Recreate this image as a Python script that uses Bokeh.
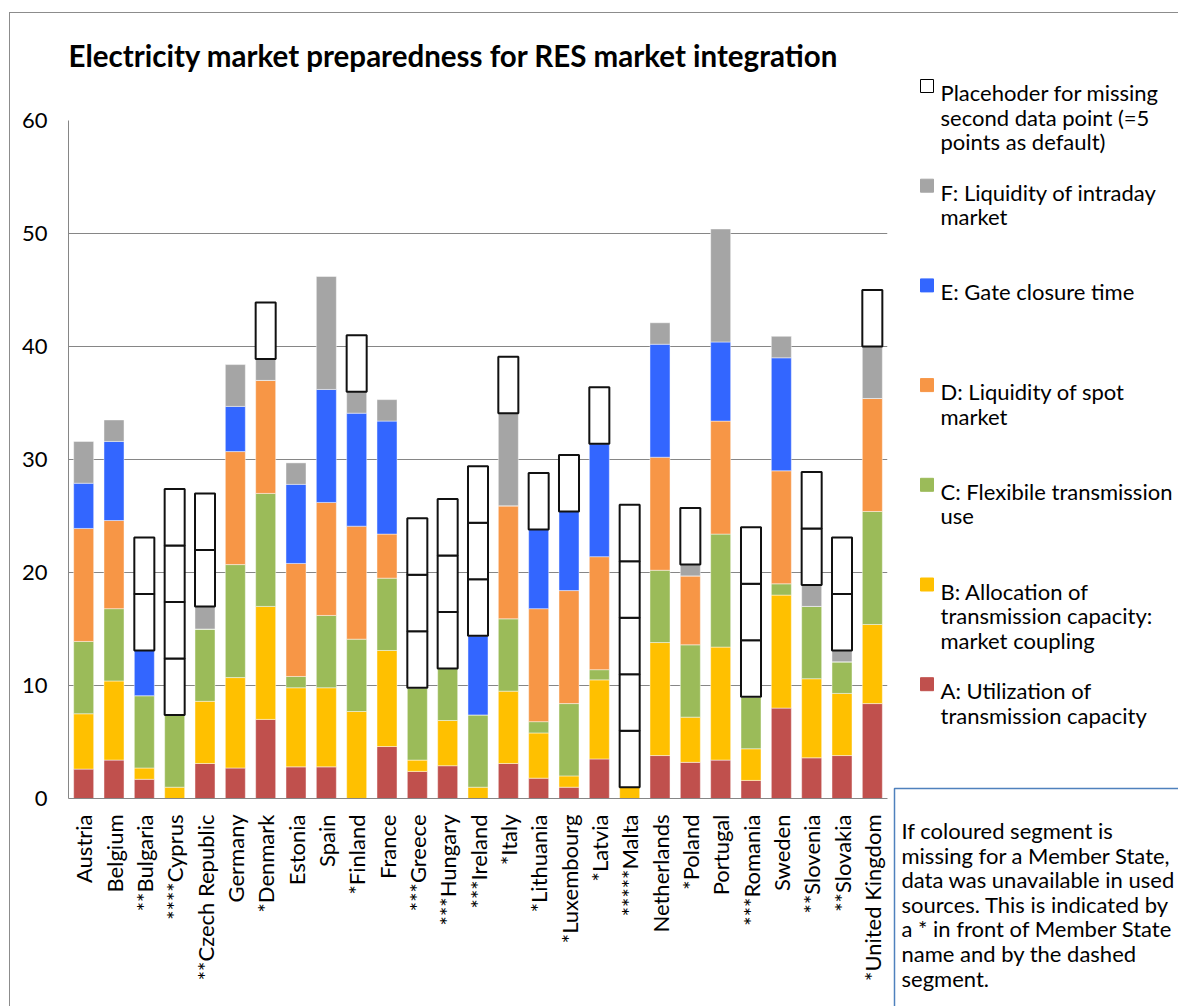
from math import pi

from bokeh.plotting import figure
from bokeh.layouts import row, column
from bokeh.models import FactorRange, Range1d, FixedTicker, ColumnDataSource
from bokeh.core.properties import value
from bokeh.embed import file_html
from bokeh.resources import INLINE

# Member states; leading asterisks count the indicators without data
countries = [
    "Austria", "Belgium", "**Bulgaria", "****Cyprus", "**Czech Republic",
    "Germany", "*Denmark", "Estonia", "Spain", "*Finland", "France",
    "***Greece", "***Hungary", "***Ireland", "*Italy", "*Lithuania",
    "*Luxembourg", "*Latvia", "*****Malta", "Netherlands", "*Poland",
    "Portugal", "***Romania", "Sweden", "**Slovenia", "**Slovakia",
    "*United Kingdom",
]

# Indicator scores per member state (0 where no data was available)
util_a = [2.6, 3.4, 1.7, 0.0, 3.1, 2.7, 7.0, 2.8, 2.8, 0.0, 4.6, 2.4, 2.9, 0.0,
          3.1, 1.8, 1.0, 3.5, 0.0, 3.8, 3.2, 3.4, 1.6, 8.0, 3.6, 3.8, 8.4]
alloc_b = [4.9, 7.0, 1.0, 1.0, 5.5, 8.0, 10.0, 7.0, 7.0, 7.7, 8.5, 1.0, 4.0, 1.0,
           6.4, 4.0, 1.0, 7.0, 1.0, 10.0, 4.0, 10.0, 2.8, 10.0, 7.0, 5.5, 7.0]
flex_c = [6.4, 6.4, 6.4, 6.4, 6.4, 10.0, 10.0, 1.0, 6.4, 6.4, 6.4, 6.4, 4.6, 6.4,
          6.4, 1.0, 6.4, 0.9, 0.0, 6.4, 6.4, 10.0, 4.6, 1.0, 6.4, 2.8, 10.0]
spot_d = [10.0, 7.8, 0.0, 0.0, 0.0, 10.0, 10.0, 10.0, 10.0, 10.0, 3.9, 0.0, 0.0, 0.0,
          10.0, 10.0, 10.0, 10.0, 0.0, 10.0, 6.1, 10.0, 0.0, 10.0, 0.0, 0.0, 10.0]
gate_e = [4.0, 7.0, 4.0, 0.0, 0.0, 4.0, 0.0, 7.0, 10.0, 10.0, 10.0, 0.0, 0.0, 7.0,
          0.0, 7.0, 7.0, 10.0, 0.0, 10.0, 0.0, 7.0, 0.0, 10.0, 0.0, 0.0, 0.0]
intraday_f = [3.7, 1.9, 0.0, 0.0, 2.0, 3.7, 1.9, 1.9, 10.0, 1.9, 1.9, 0.0, 0.0, 0.0,
              8.2, 0.0, 0.0, 0.0, 0.0, 1.9, 1.0, 10.0, 0.0, 1.9, 1.9, 1.0, 4.6]

# Default score assumed for each missing indicator
placeholder_points = 5

series_keys = ["A", "B", "C", "D", "E", "F"]
series_colors = ["#C0504D", "#FFC000", "#9BBB59", "#F79646", "#3366FF", "#A5A5A5"]

legend_entries = [
    (None, ["Placehoder for missing", "second data point (=5", "points as default)"]),
    (series_colors[5], ["F: Liquidity of intraday", "market"]),
    (series_colors[4], ["E: Gate closure time"]),
    (series_colors[3], ["D: Liquidity of spot", "market"]),
    (series_colors[2], ["C: Flexibile transmission", "use"]),
    (series_colors[1], ["B: Allocation of", "transmission capacity:", "market coupling"]),
    (series_colors[0], ["A: Utilization of", "transmission capacity"]),
]
note_lines = [
    "If coloured segment is",
    "missing for a Member State,",
    "data was unavailable in used",
    "sources. This is indicated by",
    "a * in front of Member State",
    "name and by the dashed",
    "segment.",
]
title_text = "Electricity market preparedness for RES market integration"

# Page geometry in page pixels; the chart border sits at (OX-1, OY-1)
W, H = 1178, 1006
OX, OY = 10, 13                      # content origin inside the chart border
FRAME_L, FRAME_R, FRAME_T, FRAME_B = 68, 887, 120, 798
SPLIT = 890                          # where the legend column starts
TITLE_BOTTOM = 93                    # lower edge of the title strip
BORDER = "#8C8C8C"
GRID = "#868686"
FONT = "Lato"
BAR_W = 0.66
LEGEND_LINE = 24.6
LEGEND_STEP = 99.7
NOTE_LINE = 24.6

col_w = SPLIT - OX


def page_figure(width, height, x0, x1, y0, y1, **kw):
    """A bare figure whose data coordinates are page pixels (y grows downward)."""
    f = figure(width=width, height=height, x_range=Range1d(x0, x1), y_range=Range1d(y1, y0),
               output_backend="svg", toolbar_location=None, title=None,
               x_axis_location=None, y_axis_location=None, **kw)
    f.grid.visible = False
    f.outline_line_color = None
    f.background_fill_color = "white"
    f.border_fill_color = "white"
    return f


# ---- title strip (frame shares the plot's left/right edges) ----
top = page_figure(col_w, TITLE_BOTTOM - OY, FRAME_L, FRAME_R, OY, TITLE_BOTTOM,
                  min_border_left=FRAME_L - OX, min_border_right=SPLIT - FRAME_R,
                  min_border_top=0, min_border_bottom=0)
top.text(x=[FRAME_L], y=[55], text=[title_text], text_font=value(FONT),
         text_font_style="bold", text_font_size="29.5px", text_color="black",
         text_align="left", text_baseline="alphabetic")

# ---- main stacked bar chart ----
source = ColumnDataSource(dict(
    country=countries, A=util_a, B=alloc_b, C=flex_c, D=spot_d, E=gate_e, F=intraday_f,
))

p = figure(
    x_range=FactorRange(*countries), y_range=Range1d(0, 60),
    width=col_w, height=H - TITLE_BOTTOM, title=None,
    output_backend="svg", toolbar_location=None,
    min_border_left=FRAME_L - OX, min_border_right=SPLIT - FRAME_R,
    min_border_top=FRAME_T - TITLE_BOTTOM, min_border_bottom=H - FRAME_B,
)
p.outline_line_color = None
p.background_fill_color = "white"
p.border_fill_color = "white"

p.vbar_stack(series_keys, x="country", width=BAR_W, color=series_colors,
             line_color="white", line_alpha=0.45, line_width=1, source=source)

# Placeholder boxes stacked on top of each bar, one per missing indicator
ph_x, ph_bottom, ph_top = [], [], []
for i, c in enumerate(countries):
    total = util_a[i] + alloc_b[i] + flex_c[i] + spot_d[i] + gate_e[i] + intraday_f[i]
    n_missing = len(c) - len(c.lstrip("*"))
    for k in range(n_missing):
        ph_x.append(c)
        ph_bottom.append(total + k * placeholder_points)
        ph_top.append(total + (k + 1) * placeholder_points)
p.vbar(x=ph_x, bottom=ph_bottom, top=ph_top, width=BAR_W,
       fill_color="white", line_color="#111111", line_width=2)

p.xgrid.grid_line_color = None
p.ygrid.grid_line_color = GRID
p.ygrid.grid_line_width = 1
p.yaxis.ticker = FixedTicker(ticks=[0, 10, 20, 30, 40, 50, 60])
p.yaxis.axis_line_color = GRID
p.yaxis.major_tick_line_color = None
p.yaxis.minor_tick_line_color = None
p.yaxis.major_label_standoff = 15
p.yaxis.major_label_text_font = FONT
p.yaxis.major_label_text_font_size = "22px"
p.yaxis.major_label_text_color = "black"

p.xaxis.axis_line_color = GRID
p.xaxis.major_tick_line_color = None
p.xaxis.minor_tick_line_color = None
p.xaxis.major_label_orientation = pi / 2
p.xaxis.major_label_standoff = 10
p.xaxis.major_label_text_font = FONT
p.xaxis.major_label_text_font_size = "22px"
p.xaxis.major_label_text_color = "black"

# ---- legend and note column ----
right = page_figure(W - SPLIT, H - OY, SPLIT, W, OY, H, min_border=0)

sq_l, sq_r, sq_t, sq_b, sq_fill, sq_line = [], [], [], [], [], []
tx, ty, tt = [], [], []
base = 92.0
for color, lines in legend_entries:
    sq_l.append(920)
    sq_r.append(933)
    sq_t.append(base - 13)
    sq_b.append(base)
    sq_fill.append("white" if color is None else color)
    sq_line.append("black" if color is None else color)
    for j, line in enumerate(lines):
        tx.append(940)
        ty.append(base + j * LEGEND_LINE)
        tt.append(line)
    base += LEGEND_STEP
right.quad(left=sq_l, right=sq_r, top=sq_t, bottom=sq_b,
           fill_color=sq_fill, line_color=sq_line, line_width=1)
right.text(x=tx, y=ty, text=tt, text_font=value(FONT), text_font_size="22px",
           text_color="black", text_align="left", text_baseline="alphabetic")

# Note box running off the right and bottom edges
right.quad(left=[894], right=[W + 20], top=[788], bottom=[H + 20],
           fill_color="white", line_color="#4F81BD", line_width=1.5)
right.text(x=[901] * len(note_lines),
           y=[830 + j * NOTE_LINE for j in range(len(note_lines))],
           text=note_lines, text_font=value(FONT), text_font_size="22px",
           text_color="black", text_align="left", text_baseline="alphabetic")

# Chart border: left and top edges, running off the page on the other sides
layout = row(column(top, p, spacing=0), right, spacing=0)
layout.styles = {
    "margin-left": f"{OX - 1}px",
    "margin-top": f"{OY - 1}px",
    "border-left": f"1px solid {BORDER}",
    "border-top": f"1px solid {BORDER}",
}
open("out.html", "w").write(file_html(layout, INLINE))
